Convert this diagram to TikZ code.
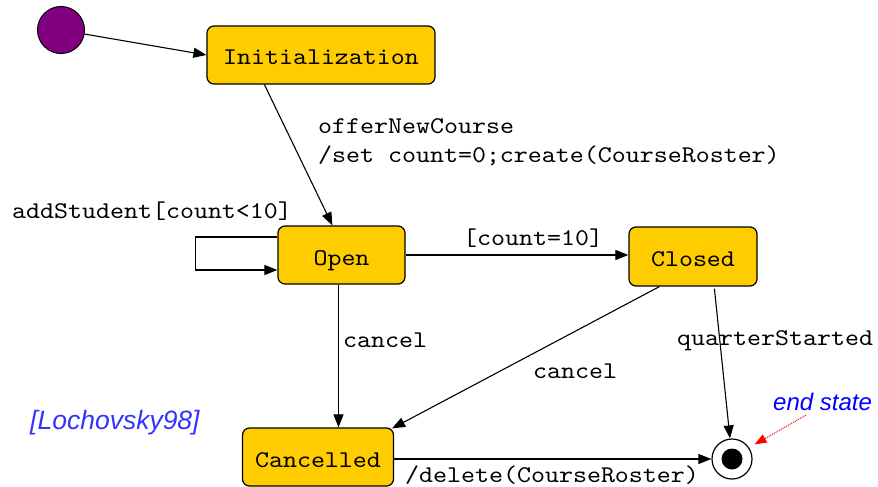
\documentclass[tikz,border=0pt]{standalone}
\usepackage{fontspec}
\newfontfamily\cour{lmmono10-regular.otf}[FakeStretch=1.11]
\setsansfont{Liberation Sans}
\usetikzlibrary{arrows.meta,calc}
\definecolor{stfill}{HTML}{FFCC00}
\definecolor{initfill}{HTML}{800080}
\definecolor{refblue}{HTML}{3333FF}
\tikzset{
  state/.style={draw=black, line width=1.2pt, fill=stfill, rounded corners=7pt, inner sep=0pt,
    font=\fontsize{24}{27}\selectfont\cour, text height=20pt, text depth=0pt},
  lbl/.style={anchor=west, inner sep=0pt, font=\fontsize{24}{27}\selectfont\cour, text height=14pt, text depth=4pt},
  tr/.style={draw=black, line width=1.1pt, -{Triangle[length=13pt,width=10pt]}},
  note/.style={inner sep=0pt, font=\fontsize{24}{28}\selectfont\sffamily\itshape}
}
\begin{document}
\begin{tikzpicture}[x=1pt,y=-1pt]
\useasboundingbox (0,0) rectangle (878,487);
% initial state
\node[circle, draw=black, line width=1pt, fill=initfill, minimum size=47pt, inner sep=0pt] (start) at (61,30) {};
% states
\node[state, minimum width=228pt, minimum height=58pt] (init) at (321,55) {Initialization};
\node[state, minimum width=127pt, minimum height=58pt] (open) at (341.5,255) {Open};
\node[state, minimum width=128pt, minimum height=59pt] (closed) at (693,256.5) {Closed};
\node[state, minimum width=151pt, minimum height=58pt] (canc) at (318,457) {Cancelled};
% final state
\node[circle, draw=black, line width=1.2pt, fill=white, minimum size=40pt, inner sep=0pt] (end) at (732,459) {};
\node[circle, fill=black, minimum size=21pt, inner sep=0pt] (endin) at (end.center) {};
% transitions
\draw[tr] (start) -- (init.west |- 0,55);
\draw[tr] ($(init.south west)+(58,0)$) -- ($(open.north west)+(55,0)$);
\draw[tr] ($(open.west)+(0,-18)$) -- ++(-82,0) -- ++(0,33) -- ($(open.west)+(0,15)$);
\draw[tr] (open.east) -- (open.east -| closed.west);
\draw[tr] ($(open.south)+(-3,0)$) coordinate (oc) -- (oc |- canc.north);
\draw[tr] ($(closed.south west)+(31,0)$) -- ($(canc.north east)+(-2,1)$);
\draw[tr] ($(closed.south west)+(86,2)$) -- ($(end.north)+(-2,0)$);
\draw[tr] ($(canc.east)+(0,2)$) -- (end.west);
% labels
\node[lbl] (l1) at (318,128.5) {offerNewCourse};
\node[lbl] (l2) at (318,157.5) {/set count=0;create(CourseRoster)};
\node[lbl] (l3) at (12,213) {addStudent[count<10]};
\node[lbl] (l4) at (463,240) {[count=10]};
\node[lbl] (l5) at (343,342) {cancel};
\node[lbl] (l6) at (533,373) {cancel};
\node[lbl] (l7) at (677,340) {quarterStarted};
\node[lbl] (l8) at (405,477) {/delete(CourseRoster)};
% notes
\node[note, text=blue, anchor=west] (es) at (773,402) {end state};
\node[note, text=refblue, anchor=west, font=\fontsize{26.5}{30}\selectfont\sffamily\itshape] (ref) at (30,423) {[Lochovsky98]};
\draw[red, densely dotted, line width=1pt, -{Triangle[length=12pt,width=9pt]}] ($(es.south west)+(33,4)$) -- ($(end.north east)+(8,0)$);
\end{tikzpicture}
\end{document}
